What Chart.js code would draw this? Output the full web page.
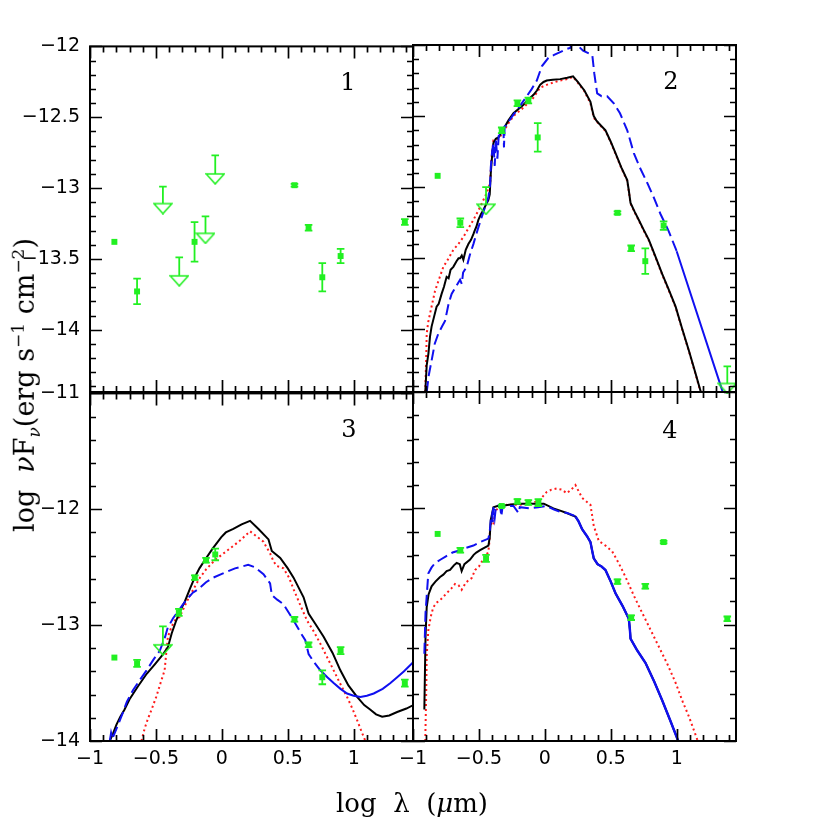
<!DOCTYPE html>
<html>
<head>
<meta charset="utf-8">
<script src="https://cdn.jsdelivr.net/npm/chart.js@4.4.0/dist/chart.umd.min.js"></script>
<style>
  body { margin: 0; background: #fff; }
  #wrap { position: relative; width: 830px; height: 830px; background: #fff; overflow: hidden; }
  canvas { position: absolute; }
  .num { position: absolute; font: 24px 'DejaVu Serif', serif; transform: translate(-50%, -50%); color: #000; }
  .title { position: absolute; font: 26px 'DejaVu Serif', serif; white-space: nowrap; color: #000; }
  .title sup, .title sub { font-size: 17px; }
  #ytitle { font-size: 27px; }
</style>
</head>
<body>
<div id="wrap">
  <canvas id="p1" width="433" height="417" style="left:0px;top:25px"></canvas>
  <canvas id="p2" width="433" height="417" style="left:323px;top:25px"></canvas>
  <canvas id="p3" width="433" height="419" style="left:0px;top:372px"></canvas>
  <canvas id="p4" width="433" height="419" style="left:323px;top:372px"></canvas>
  <div class="num" style="left:348px;top:82px">1</div>
  <div class="num" style="left:671px;top:81px">2</div>
  <div class="num" style="left:349px;top:429px">3</div>
  <div class="num" style="left:670px;top:430px">4</div>
  <div class="title" style="left:412px;top:803px;transform:translate(-50%,-50%)">log&nbsp; λ&nbsp; (<i>μ</i>m)</div>
  <div class="title" id="ytitle" style="left:26px;top:385px;transform:translate(-50%,-50%) rotate(-90deg)">log&nbsp; <i>ν</i>F<sub><i>ν</i></sub>(erg s<sup>−1</sup> cm<sup>−2</sup>)</div>
</div>
<script>
// ---- data: log lambda (micron) vs log nuFnu ----

// panel 1
const p1DetX = [-0.815, -0.643, -0.207, 0.551, 0.658, 0.762, 0.901, 1.388];
const p1DetY = [-13.38, -13.73, -13.38, -12.98, -13.28, -13.63, -13.48, -13.24];
const p1DetErr = [0, 0.09, 0.14, 0.01, 0.02, 0.1, 0.05, 0.02];
const p1LimX = [-0.447, -0.323, -0.124, -0.05];
const p1LimY = [-13.11, -13.62, -13.32, -12.90];
const p1LimTop = [-12.99, -13.49, -13.20, -12.77];

// panel 2
const p2DetX = [-0.813, -0.641, -0.327, -0.208, -0.125, -0.054, 0.551, 0.655, 0.762, 0.901];
const p2DetY = [-12.92, -13.25, -12.60, -12.41, -12.39, -12.65, -13.18, -13.43, -13.52, -13.27];
const p2DetErr = [0, 0.03, 0.02, 0.02, 0.02, 0.1, 0.01, 0.02, 0.09, 0.03];
const p2LimX = [-0.446, 1.384];
const p2LimY = [-13.12, -14.38];
const p2LimTop = [-13.0, -14.26];

const p2Black = [[-0.907,-14.44],[-0.896,-14.25],[-0.883,-14.17],[-0.871,-14.05],[-0.859,-13.98],[-0.84,-13.91],[-0.821,-13.84],[-0.805,-13.82],[-0.783,-13.75],[-0.765,-13.70],[-0.745,-13.63],[-0.73,-13.64],[-0.715,-13.58],[-0.694,-13.56],[-0.67,-13.52],[-0.655,-13.50],[-0.643,-13.50],[-0.63,-13.48],[-0.618,-13.51],[-0.60,-13.44],[-0.58,-13.40],[-0.56,-13.37],[-0.542,-13.33],[-0.53,-13.30],[-0.52,-13.28],[-0.504,-13.23],[-0.485,-13.19],[-0.466,-13.16],[-0.445,-13.12],[-0.428,-13.09],[-0.418,-13.05],[-0.41,-12.90],[-0.40,-12.78],[-0.39,-12.69],[-0.372,-12.66],[-0.352,-12.65],[-0.314,-12.59],[-0.276,-12.53],[-0.238,-12.48],[-0.2,-12.45],[-0.162,-12.42],[-0.12,-12.38],[-0.086,-12.35],[-0.06,-12.32],[-0.036,-12.28],[-0.01,-12.26],[0.014,-12.25],[0.06,-12.245],[0.116,-12.24],[0.17,-12.23],[0.214,-12.22],[0.25,-12.26],[0.3,-12.32],[0.346,-12.40],[0.358,-12.45],[0.371,-12.50],[0.39,-12.53],[0.409,-12.55],[0.46,-12.60],[0.5,-12.68],[0.536,-12.76],[0.58,-12.86],[0.625,-12.95],[0.638,-13.03],[0.65,-13.11],[0.68,-13.17],[0.713,-13.23],[0.75,-13.30],[0.789,-13.37],[0.84,-13.49],[0.89,-13.61],[0.94,-13.72],[0.992,-13.84],[1.04,-13.99],[1.093,-14.15],[1.14,-14.30],[1.18,-14.43],[1.2,-14.5]];
const p2Red = [[-0.907,-14.44],[-0.9,-14.2],[-0.896,-14.03],[-0.885,-13.95],[-0.871,-13.89],[-0.85,-13.80],[-0.833,-13.73],[-0.80,-13.64],[-0.77,-13.56],[-0.73,-13.50],[-0.694,-13.44],[-0.656,-13.40],[-0.618,-13.35],[-0.58,-13.29],[-0.542,-13.23],[-0.491,-13.14],[-0.441,-13.04],[-0.415,-12.97],[-0.405,-12.80],[-0.39,-12.67],[-0.352,-12.66],[-0.314,-12.61],[-0.276,-12.55],[-0.238,-12.50],[-0.2,-12.47],[-0.162,-12.44],[-0.12,-12.40],[-0.086,-12.37],[-0.036,-12.30],[0.014,-12.28],[0.06,-12.265],[0.116,-12.25],[0.17,-12.24],[0.214,-12.225],[0.25,-12.265],[0.3,-12.325],[0.346,-12.41],[0.358,-12.46],[0.371,-12.51],[0.39,-12.535],[0.409,-12.555],[0.46,-12.605],[0.5,-12.685],[0.536,-12.765],[0.58,-12.865],[0.625,-12.955],[0.638,-13.035],[0.65,-13.115],[0.68,-13.175],[0.713,-13.235],[0.75,-13.305],[0.789,-13.375],[0.84,-13.495],[0.89,-13.615],[0.94,-13.725],[0.992,-13.845],[1.04,-13.995],[1.093,-14.155],[1.14,-14.305],[1.18,-14.435],[1.2,-14.5]];
const p2BlueDash = [[-0.896,-14.44],[-0.88,-14.32],[-0.859,-14.22],[-0.835,-14.10],[-0.808,-14.03],[-0.78,-13.98],[-0.757,-13.94],[-0.73,-13.82],[-0.707,-13.75],[-0.675,-13.70],[-0.643,-13.65],[-0.63,-13.68],[-0.62,-13.60],[-0.593,-13.56],[-0.57,-13.48],[-0.542,-13.40],[-0.51,-13.30],[-0.479,-13.21],[-0.45,-13.13],[-0.428,-13.07],[-0.415,-12.98],[-0.41,-12.86],[-0.40,-12.75],[-0.39,-12.69],[-0.38,-12.85],[-0.372,-12.66],[-0.36,-12.80],[-0.35,-12.64],[-0.33,-12.62],[-0.314,-12.59],[-0.31,-12.72],[-0.305,-12.58],[-0.276,-12.54],[-0.238,-12.49],[-0.19,-12.43],[-0.137,-12.36],[-0.1,-12.31],[-0.061,-12.25],[-0.023,-12.15],[0.027,-12.09],[0.07,-12.07],[0.116,-12.05],[0.16,-12.03],[0.192,-12.02],[0.21,-11.99],[0.235,-12.0],[0.257,-12.01],[0.29,-12.04],[0.36,-12.07],[0.375,-12.2],[0.397,-12.34],[0.43,-12.36],[0.473,-12.36],[0.523,-12.41],[0.57,-12.48],[0.625,-12.60],[0.675,-12.76],[0.72,-12.86],[0.777,-12.97],[0.83,-13.08],[0.878,-13.19],[0.94,-13.31],[1.0,-13.45]];
const p2BlueSolid = [[1.0,-13.45],[1.346,-14.43],[1.36,-14.47]];

// panel 3
const p3DetX = [-0.815, -0.643, -0.326, -0.205, -0.12, -0.05, 0.551, 0.658, 0.762, 0.901, 1.388];
const p3DetY = [-13.28, -13.33, -12.89, -12.59, -12.44, -12.39, -12.95, -13.17, -13.45, -13.22, -13.50];
const p3DetErr = [0, 0.03, 0.03, 0.02, 0.02, 0.05, 0.02, 0.02, 0.06, 0.03, 0.03];
const p3LimX = [-0.447];
const p3LimY = [-13.17];
const p3LimTop = [-13.01];

const p3Black = [[-0.85,-14.0],[-0.827,-13.94],[-0.80,-13.86],[-0.77,-13.79],[-0.739,-13.73],[-0.70,-13.64],[-0.637,-13.53],[-0.57,-13.42],[-0.51,-13.34],[-0.445,-13.25],[-0.409,-13.19],[-0.38,-13.07],[-0.346,-12.96],[-0.31,-12.86],[-0.282,-12.80],[-0.24,-12.68],[-0.206,-12.59],[-0.17,-12.51],[-0.13,-12.44],[-0.07,-12.34],[-0.004,-12.24],[0.03,-12.20],[0.087,-12.17],[0.15,-12.13],[0.214,-12.10],[0.278,-12.17],[0.354,-12.26],[0.379,-12.36],[0.443,-12.42],[0.5,-12.51],[0.544,-12.59],[0.62,-12.76],[0.658,-12.90],[0.71,-12.99],[0.772,-13.10],[0.84,-13.24],[0.899,-13.39],[0.96,-13.52],[1.026,-13.62],[1.08,-13.69],[1.127,-13.73],[1.17,-13.77],[1.216,-13.79],[1.27,-13.78],[1.33,-13.75],[1.40,-13.72],[1.47,-13.68]];
const p3Red = [[-0.61,-14.0],[-0.585,-13.89],[-0.561,-13.81],[-0.53,-13.72],[-0.498,-13.62],[-0.465,-13.50],[-0.434,-13.39],[-0.42,-13.22],[-0.409,-13.10],[-0.38,-13.01],[-0.35,-12.95],[-0.32,-12.93],[-0.267,-12.80],[-0.206,-12.67],[-0.166,-12.59],[-0.12,-12.52],[-0.054,-12.44],[0.037,-12.36],[0.138,-12.27],[0.214,-12.19],[0.27,-12.24],[0.316,-12.28],[0.335,-12.32],[0.366,-12.38],[0.392,-12.45],[0.418,-12.49],[0.468,-12.51],[0.51,-12.59],[0.544,-12.69],[0.6,-12.84],[0.646,-12.96],[0.70,-13.06],[0.747,-13.16],[0.80,-13.28],[0.848,-13.39],[0.90,-13.51],[0.95,-13.62],[0.99,-13.72],[1.026,-13.82],[1.06,-13.92],[1.089,-14.0]];
const p3BlueDash = [[-0.85,-14.0],[-0.84,-13.93],[-0.83,-13.98],[-0.812,-13.93],[-0.78,-13.84],[-0.749,-13.75],[-0.72,-13.66],[-0.673,-13.56],[-0.62,-13.47],[-0.571,-13.39],[-0.52,-13.30],[-0.47,-13.22],[-0.43,-13.10],[-0.41,-13.02],[-0.394,-12.99],[-0.37,-12.94],[-0.343,-12.90],[-0.30,-12.83],[-0.267,-12.78],[-0.22,-12.72],[-0.18,-12.69],[-0.12,-12.63],[-0.065,-12.59],[-0.004,-12.56],[0.037,-12.54],[0.1,-12.51],[0.2,-12.48],[0.25,-12.50],[0.316,-12.56],[0.366,-12.64],[0.379,-12.74],[0.42,-12.78],[0.468,-12.82],[0.544,-12.96],[0.6,-13.07],[0.633,-13.13],[0.658,-13.25],[0.70,-13.32],[0.747,-13.39]];
const p3BlueSolid = [[0.747,-13.39],[0.80,-13.45],[0.848,-13.50],[0.90,-13.55],[0.95,-13.59],[1.0,-13.61],[1.051,-13.62],[1.10,-13.61],[1.152,-13.59],[1.22,-13.55],[1.279,-13.50],[1.33,-13.45],[1.38,-13.40],[1.47,-13.30]];

// panel 4
const p4DetX = [-0.813, -0.641, -0.446, -0.327, -0.208, -0.125, -0.049, 0.551, 0.655, 0.762, 0.901, 1.384];
const p4DetY = [-12.22, -12.36, -12.43, -11.98, -11.94, -11.95, -11.95, -12.63, -12.94, -12.67, -12.29, -12.95];
const p4DetErr = [0, 0.02, 0.03, 0.01, 0.02, 0.02, 0.03, 0.02, 0.02, 0.02, 0.01, 0.02];

const p4Black = [[-0.914,-13.73],[-0.905,-13.1],[-0.896,-12.85],[-0.882,-12.74],[-0.859,-12.67],[-0.83,-12.63],[-0.795,-12.59],[-0.77,-12.57],[-0.745,-12.54],[-0.719,-12.53],[-0.69,-12.49],[-0.669,-12.47],[-0.645,-12.48],[-0.631,-12.54],[-0.61,-12.48],[-0.567,-12.44],[-0.54,-12.40],[-0.52,-12.38],[-0.491,-12.36],[-0.46,-12.34],[-0.428,-12.32],[-0.418,-12.25],[-0.41,-12.10],[-0.39,-11.99],[-0.36,-11.98],[-0.337,-11.98],[-0.27,-11.97],[-0.21,-11.96],[-0.084,-11.96],[-0.036,-11.96],[-0.008,-11.96],[0.065,-12.0],[0.116,-12.02],[0.166,-12.04],[0.207,-12.06],[0.232,-12.07],[0.255,-12.11],[0.283,-12.18],[0.32,-12.24],[0.346,-12.29],[0.36,-12.37],[0.371,-12.43],[0.40,-12.48],[0.43,-12.50],[0.46,-12.53],[0.50,-12.63],[0.536,-12.73],[0.59,-12.84],[0.637,-12.95],[0.645,-13.04],[0.65,-13.12],[0.70,-13.22],[0.764,-13.33],[0.83,-13.49],[0.89,-13.65],[0.95,-13.82],[1.005,-13.98],[1.02,-14.02]];
const p4Red = [[-0.907,-14.0],[-0.9,-13.6],[-0.896,-13.27],[-0.884,-13.05],[-0.865,-12.93],[-0.846,-12.85],[-0.82,-12.81],[-0.795,-12.79],[-0.745,-12.73],[-0.71,-12.69],[-0.681,-12.65],[-0.655,-12.66],[-0.631,-12.70],[-0.60,-12.64],[-0.58,-12.62],[-0.555,-12.60],[-0.529,-12.53],[-0.50,-12.50],[-0.479,-12.46],[-0.45,-12.42],[-0.428,-12.37],[-0.42,-12.28],[-0.415,-12.16],[-0.40,-12.10],[-0.39,-12.14],[-0.377,-12.02],[-0.34,-11.99],[-0.292,-11.97],[-0.2,-11.97],[-0.112,-11.96],[-0.036,-11.93],[-0.01,-11.89],[0.014,-11.86],[0.05,-11.84],[0.09,-11.83],[0.13,-11.84],[0.166,-11.87],[0.2,-11.84],[0.232,-11.80],[0.283,-11.91],[0.346,-11.97],[0.371,-12.15],[0.409,-12.28],[0.46,-12.32],[0.511,-12.37],[0.56,-12.47],[0.612,-12.59],[0.675,-12.75],[0.739,-12.90],[0.80,-13.04],[0.865,-13.19],[0.93,-13.34],[0.992,-13.50],[1.045,-13.66],[1.093,-13.79],[1.157,-13.99],[1.17,-14.03]];
const p4BlueDash = [[-0.914,-13.25],[-0.905,-12.90],[-0.884,-12.56],[-0.86,-12.51],[-0.833,-12.47],[-0.79,-12.44],[-0.747,-12.41],[-0.70,-12.38],[-0.643,-12.36],[-0.60,-12.34],[-0.542,-12.32],[-0.49,-12.29],[-0.428,-12.26],[-0.418,-12.2],[-0.41,-12.10],[-0.40,-12.05],[-0.395,-12.12],[-0.39,-11.99],[-0.38,-12.08],[-0.37,-11.98],[-0.34,-11.97],[-0.33,-12.07],[-0.32,-11.98],[-0.238,-11.98],[-0.2,-12.04],[-0.19,-11.99],[-0.112,-12.0],[-0.05,-11.99],[0.014,-11.98],[0.07,-12.01],[0.116,-12.03],[0.17,-12.04],[0.217,-12.06],[0.232,-12.07]];
const p4BlueSolid = [[0.232,-12.07],[0.255,-12.11],[0.283,-12.18],[0.32,-12.24],[0.346,-12.29],[0.36,-12.37],[0.371,-12.43],[0.40,-12.48],[0.43,-12.50],[0.46,-12.53],[0.50,-12.63],[0.536,-12.73],[0.59,-12.84],[0.637,-12.95],[0.645,-13.04],[0.65,-13.12],[0.70,-13.22],[0.764,-13.33],[0.83,-13.49],[0.89,-13.65],[0.95,-13.82],[1.005,-13.98],[1.02,-14.02]];

// axis ranges / ticks
const xRange = [-1, 1.45];
const yTopRange = [-14.44, -12];
const yBottomRange = [-14, -11];

// ---- styling ----
const GREEN = '#22f022';
const BLUE = '#1010f0';
const RED = '#ff1a1a';

// open, downward triangle used for upper limits (top edge sits on the value)
const triangle = document.createElement('canvas');
triangle.width = 20;
triangle.height = 22;
(function () {
  const c = triangle.getContext('2d');
  c.strokeStyle = GREEN;
  c.lineWidth = 1.6;
  c.beginPath();
  c.moveTo(1, 11);
  c.lineTo(19, 11);
  c.lineTo(10, 21);
  c.closePath();
  c.stroke();
})();

function pairs(list) {
  return list.map(p => ({ x: p[0], y: p[1] }));
}

function zip(xs, ys) {
  return xs.map((x, i) => ({ x: x, y: ys[i] }));
}

function curve(list, color, dash, width, order) {
  return {
    data: pairs(list),
    showLine: true,
    borderColor: color,
    borderWidth: width,
    borderDash: dash,
    pointRadius: 0,
    tension: 0,
    fill: false,
    order: order,
  };
}

function detections(xs, ys, errs) {
  return {
    data: zip(xs, ys),
    errs: errs,
    pointStyle: 'rect',
    pointRadius: 4.2,
    backgroundColor: GREEN,
    borderColor: GREEN,
    borderWidth: 0,
    clip: false,
    order: 0,
  };
}

function limits(xs, ys, tops) {
  return {
    data: zip(xs, ys),
    tops: tops,
    pointStyle: triangle,
    pointRadius: 10,
    borderColor: GREEN,
    clip: false,
    order: 0,
  };
}

function minusFmt(v) {
  return v < 0 ? '\u2212' + Math.abs(v) : String(v);
}

// error bars and upper-limit stems
const errorBars = {
  id: 'errorBars',
  afterDatasetsDraw(chart) {
    const { ctx, scales: { y } } = chart;
    chart.data.datasets.forEach((ds, di) => {
      if (!ds.errs && !ds.tops) return;
      const meta = chart.getDatasetMeta(di);
      ctx.save();
      ctx.strokeStyle = GREEN;
      ctx.lineWidth = 1.8;
      meta.data.forEach((pt, i) => {
        const v = ds.data[i].y;
        const hi = ds.tops ? ds.tops[i] : v + ds.errs[i];
        const lo = ds.tops ? v : v - ds.errs[i];
        if (hi === lo) return;
        const y1 = y.getPixelForValue(hi);
        const y2 = y.getPixelForValue(lo);
        ctx.beginPath();
        ctx.moveTo(pt.x, y1);
        ctx.lineTo(pt.x, y2);
        ctx.moveTo(pt.x - 3.8, y1);
        ctx.lineTo(pt.x + 3.8, y1);
        if (!ds.tops) {
          ctx.moveTo(pt.x - 3.8, y2);
          ctx.lineTo(pt.x + 3.8, y2);
        }
        ctx.stroke();
      });
      ctx.restore();
    });
  }
};

function isMajor(v, step) {
  return Math.abs(v / step - Math.round(v / step)) < 1e-6;
}

// box with inward major/minor ticks on all four sides
const frame = {
  id: 'frame',
  afterDraw(chart, args, opts) {
    const { ctx, chartArea: a, scales: { x, y } } = chart;
    ctx.save();
    ctx.strokeStyle = '#000';
    ctx.lineWidth = 1.7;
    ctx.beginPath();
    for (let i = Math.ceil(x.min / 0.1 - 1e-6); i * 0.1 <= x.max + 1e-9; i++) {
      const v = i * 0.1;
      const len = isMajor(v, 0.5) ? 12 : 6;
      const px = Math.round(x.getPixelForValue(v)) + 0.5;
      ctx.moveTo(px, a.bottom);
      ctx.lineTo(px, a.bottom - len);
      ctx.moveTo(px, a.top);
      ctx.lineTo(px, a.top + len);
    }
    for (let i = Math.ceil(y.min / opts.yMinor - 1e-6); i * opts.yMinor <= y.max + 1e-9; i++) {
      const v = i * opts.yMinor;
      const len = isMajor(v, opts.yMajor) ? 12 : 6;
      const py = Math.round(y.getPixelForValue(v)) + 0.5;
      ctx.moveTo(a.left, py);
      ctx.lineTo(a.left + len, py);
      ctx.moveTo(a.right, py);
      ctx.lineTo(a.right - len, py);
    }
    ctx.stroke();
    ctx.lineWidth = 2;
    ctx.strokeRect(a.left, a.top, a.right - a.left, a.bottom - a.top);
    ctx.restore();
  }
};

const tickFont = { family: "'DejaVu Sans', sans-serif", size: 19 };

function makePanel(id, datasets, cfg) {
  return new Chart(document.getElementById(id), {
    type: 'scatter',
    data: { datasets: datasets },
    plugins: [errorBars, frame],
    options: {
      responsive: false,
      animation: false,
      events: [],
      layout: { padding: { top: 20, right: 20, left: 0, bottom: 0 } },
      plugins: {
        legend: { display: false },
        tooltip: { enabled: false },
        frame: { yMinor: cfg.yMinor, yMajor: cfg.yMajor },
      },
      scales: {
        x: {
          type: 'linear',
          min: xRange[0],
          max: xRange[1],
          grid: { display: false, drawTicks: false },
          border: { display: false },
          ticks: {
            display: cfg.xLabels,
            stepSize: 0.5,
            includeBounds: false,
            autoSkip: false,
            maxRotation: 0,
            padding: 7,
            color: '#000',
            font: tickFont,
            callback: minusFmt,
          },
          afterFit: s => { s.height = 50; },
        },
        y: {
          type: 'linear',
          min: cfg.yRange[0],
          max: cfg.yRange[1],
          grid: { display: false, drawTicks: false },
          border: { display: false },
          ticks: {
            display: cfg.yLabels,
            stepSize: cfg.yMajor,
            includeBounds: false,
            autoSkip: false,
            padding: 10,
            color: '#000',
            font: tickFont,
            callback: minusFmt,
          },
          afterFit: s => { s.width = 90; },
        },
      },
    },
  });
}

document.addEventListener('DOMContentLoaded', () => {
  makePanel('p1', [
    detections(p1DetX, p1DetY, p1DetErr),
    limits(p1LimX, p1LimY, p1LimTop),
  ], { yRange: yTopRange, yMajor: 0.5, yMinor: 0.1, xLabels: false, yLabels: true });

  makePanel('p2', [
    detections(p2DetX, p2DetY, p2DetErr),
    limits(p2LimX, p2LimY, p2LimTop),
    curve(p2BlueDash, BLUE, [11, 5], 2, 1),
    curve(p2BlueSolid, BLUE, [], 2, 1),
    curve(p2Black, '#000', [], 2, 2),
    curve(p2Red, RED, [2, 3], 2, 3),
  ], { yRange: yTopRange, yMajor: 0.5, yMinor: 0.1, xLabels: false, yLabels: false });

  makePanel('p3', [
    detections(p3DetX, p3DetY, p3DetErr),
    limits(p3LimX, p3LimY, p3LimTop),
    curve(p3BlueDash, BLUE, [11, 5], 2, 1),
    curve(p3BlueSolid, BLUE, [], 2, 1),
    curve(p3Black, '#000', [], 2, 2),
    curve(p3Red, RED, [2, 3], 2, 3),
  ], { yRange: yBottomRange, yMajor: 1, yMinor: 0.2, xLabels: true, yLabels: true });

  makePanel('p4', [
    detections(p4DetX, p4DetY, p4DetErr),
    curve(p4BlueDash, BLUE, [11, 5], 2, 1),
    curve(p4BlueSolid, BLUE, [], 2.4, 1),
    curve(p4Black, '#000', [], 2, 2),
    curve(p4Red, RED, [2, 3], 2, 3),
  ], { yRange: yBottomRange, yMajor: 1, yMinor: 0.2, xLabels: true, yLabels: false });
});
</script>
</body>
</html>
